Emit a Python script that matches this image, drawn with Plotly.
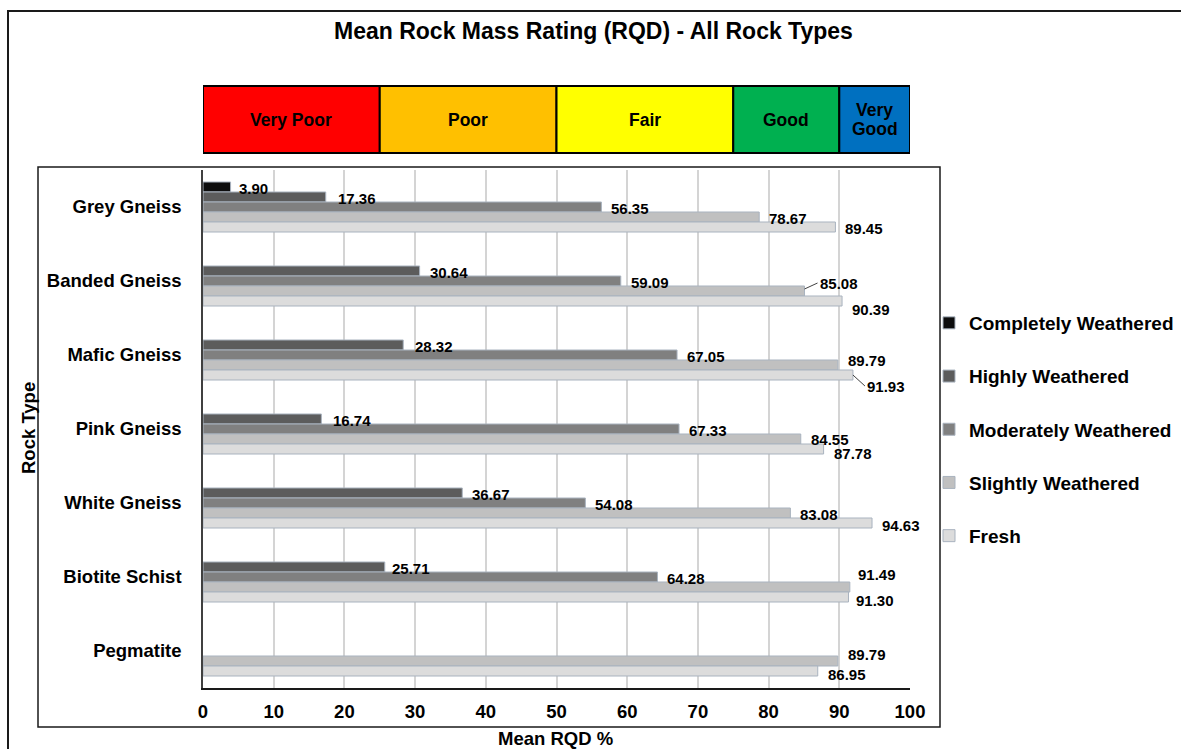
import plotly.graph_objects as go

# ---- data -------------------------------------------------------------
rock_types = ["Grey Gneiss", "Banded Gneiss", "Mafic Gneiss", "Pink Gneiss",
              "White Gneiss", "Biotite Schist", "Pegmatite"]

completely_weathered = [3.90, None, None, None, None, None, None]
highly_weathered = [17.36, 30.64, 28.32, 16.74, 36.67, 25.71, None]
moderately_weathered = [56.35, 59.09, 67.05, 67.33, 54.08, 64.28, None]
slightly_weathered = [78.67, 85.08, 89.79, 84.55, 83.08, 91.49, 89.79]
fresh = [89.45, 90.39, 91.93, 87.78, 94.63, 91.30, 86.95]

series_names = ["Completely Weathered", "Highly Weathered",
                "Moderately Weathered", "Slightly Weathered", "Fresh"]
series_values = [completely_weathered, highly_weathered, moderately_weathered,
                 slightly_weathered, fresh]

rqd_classes = ["Very Poor", "Poor", "Fair", "Good", "Very Good"]
rqd_bounds = [0, 25, 50, 75, 90, 100]
x_ticks = [0, 10, 20, 30, 40, 50, 60, 70, 80, 90, 100]

# ---- styling ----------------------------------------------------------
W, H = 1181, 749
M_L, M_R, M_T, M_B = 203, 271, 170, 61
PW, PH = W - M_L - M_R, H - M_T - M_B
BARGAP = 0.324
SLOT = PH / len(rock_types) * (1 - BARGAP) / len(series_names)

FONT = "Liberation Sans, Arial, sans-serif"
bar_colors = ["#0d0d0d", "#5c5c5c", "#808080", "#c0c0c0", "#dcdcdc"]
class_colors = ["#ff0000", "#ffc000", "#ffff00", "#00b050", "#0070c0"]


def px_x(p):
    return (p - M_L) / PW


def px_y(p):
    return (H - M_B - p) / PH


fig = go.Figure()
for name, vals, col in zip(series_names, series_values, bar_colors):
    fig.add_trace(go.Bar(
        y=rock_types, x=vals, name=name, orientation="h",
        marker=dict(color=col, line=dict(color="#a9b3bf", width=1)),
        legendgroup=name, hoverinfo="x+y+name",
    ))

# value labels: (dx, dy) pixel nudges; leader = arrow offset (ax, ay)
label_nudge = {
    (0, 0): dict(dx=8), (0, 1): dict(dx=12),
    (1, 3): dict(leader=(13, -6), dy=-2), (1, 4): dict(dy=8.5),
    (2, 1): dict(dx=12), (2, 3): dict(dy=-5), (2, 4): dict(leader=(12, 11)),
    (3, 1): dict(dx=12), (3, 3): dict(dy=0), (3, 4): dict(dy=4),
    (4, 4): dict(dy=2),
    (5, 1): dict(dx=7), (5, 3): dict(dx=8, dy=-12.5), (5, 4): dict(dx=8, dy=3.5),
    (6, 3): dict(dy=-6.5), (6, 4): dict(dy=3.5),
}
label_font = dict(family=FONT, size=15, color="#000000", weight="bold")
n_series = len(series_names)
for si, vals in enumerate(series_values):
    for ri, v in enumerate(vals):
        if v is None:
            continue
        opt = label_nudge.get((ri, si), {})
        slot_off = (si - (n_series - 1) / 2) * SLOT
        if "leader" in opt:
            ax, ay = opt["leader"]
            fig.add_annotation(
                x=v, y=rock_types[ri], text=f"{v:.2f}", font=label_font,
                showarrow=True, arrowhead=0, arrowwidth=1, arrowcolor="#404040",
                ax=ax, ay=ay, xanchor="left", yanchor="middle",
                yshift=-(slot_off + opt.get("dy", 0)), standoff=0,
            )
        else:
            fig.add_annotation(
                x=v, y=rock_types[ri], text=f"{v:.2f}", font=label_font,
                showarrow=False, xanchor="left", yanchor="middle",
                xshift=opt.get("dx", 10) - 2,
                yshift=-(slot_off + opt.get("dy", 1.5)),
            )

# RQD classification band above the plot
band_y0, band_y1 = px_y(153), px_y(86)
for i, (cls, col) in enumerate(zip(rqd_classes, class_colors)):
    x0, x1 = rqd_bounds[i], rqd_bounds[i + 1]
    fig.add_shape(type="rect", xref="x", yref="paper", x0=x0, x1=x1,
                  y0=band_y0, y1=band_y1, fillcolor=col,
                  line=dict(color="#000000", width=2), layer="above")
    xm = (x0 + x1) / 2
    lines = cls.split(" ") if cls == "Very Good" else [cls]
    if len(lines) == 1:
        ys = [px_y(120)]
    else:
        ys = [px_y(110), px_y(129)]
    for txt, yy in zip(lines, ys):
        fig.add_annotation(x=xm, y=yy, xref="x", yref="paper", text=txt,
                           showarrow=False, xanchor="center", yanchor="middle",
                           font=dict(family=FONT, size=17.5, color="#000000",
                                     weight="bold"))

# title and axis titles
fig.add_annotation(x=px_x(593.5), y=px_y(31), xref="paper", yref="paper",
                   text="Mean Rock Mass Rating (RQD) - All Rock Types",
                   showarrow=False, xanchor="center", yanchor="middle",
                   font=dict(family=FONT, size=23, color="#000000", weight="bold"))
fig.add_annotation(x=px_x(28), y=px_y(428), xref="paper", yref="paper",
                   text="Rock Type", textangle=-90, showarrow=False,
                   xanchor="center", yanchor="middle",
                   font=dict(family=FONT, size=18.5, color="#000000", weight="bold"))
fig.add_annotation(x=px_x(555), y=px_y(738), xref="paper", yref="paper",
                   text="Mean RQD %", showarrow=False,
                   xanchor="center", yanchor="middle",
                   font=dict(family=FONT, size=18.5, color="#000000", weight="bold"))

# frames
fig.add_shape(type="rect", xref="paper", yref="paper",
              x0=px_x(8), x1=px_x(1300), y0=px_y(900), y1=px_y(11),
              line=dict(color="#1a1a1a", width=2), layer="below")
fig.add_shape(type="rect", xref="paper", yref="paper",
              x0=px_x(38), x1=px_x(940), y0=px_y(727), y1=px_y(167),
              line=dict(color="#1a1a1a", width=1.5), layer="below")

fig.update_layout(
    width=W, height=H,
    margin=dict(l=M_L, r=M_R, t=M_T, b=M_B, autoexpand=False),
    paper_bgcolor="#ffffff", plot_bgcolor="rgba(0,0,0,0)",
    barmode="group", bargap=BARGAP, bargroupgap=0,
    font=dict(family=FONT, color="#000000"),
    legend=dict(
        x=px_x(929), y=px_y(304), xanchor="left", yanchor="top",
        traceorder="grouped", tracegroupgap=25.5,
        font=dict(family=FONT, size=19, color="#000000", weight="bold"),
        bgcolor="rgba(0,0,0,0)", itemclick=False, itemdoubleclick=False,
    ),
    xaxis=dict(
        range=[0, 100], tickvals=x_ticks, ticktext=[str(t) for t in x_ticks],
        showgrid=True, gridcolor="#d4d4d4", gridwidth=1.5, zeroline=False,
        showline=True, linecolor="#1a1a1a", linewidth=1.5, ticks="",
        ticklabelstandoff=6,
        tickfont=dict(family=FONT, size=18.5, color="#000000", weight="bold"),
        fixedrange=True,
    ),
    yaxis=dict(
        categoryorder="array", categoryarray=rock_types, autorange="reversed",
        showgrid=False, zeroline=False, showline=True, linecolor="#404040",
        linewidth=1.5, ticks="", ticklabelstandoff=16,
        tickfont=dict(family=FONT, size=18.5, color="#000000", weight="bold"),
        fixedrange=True,
    ),
)

fig.write_html("out.html")
